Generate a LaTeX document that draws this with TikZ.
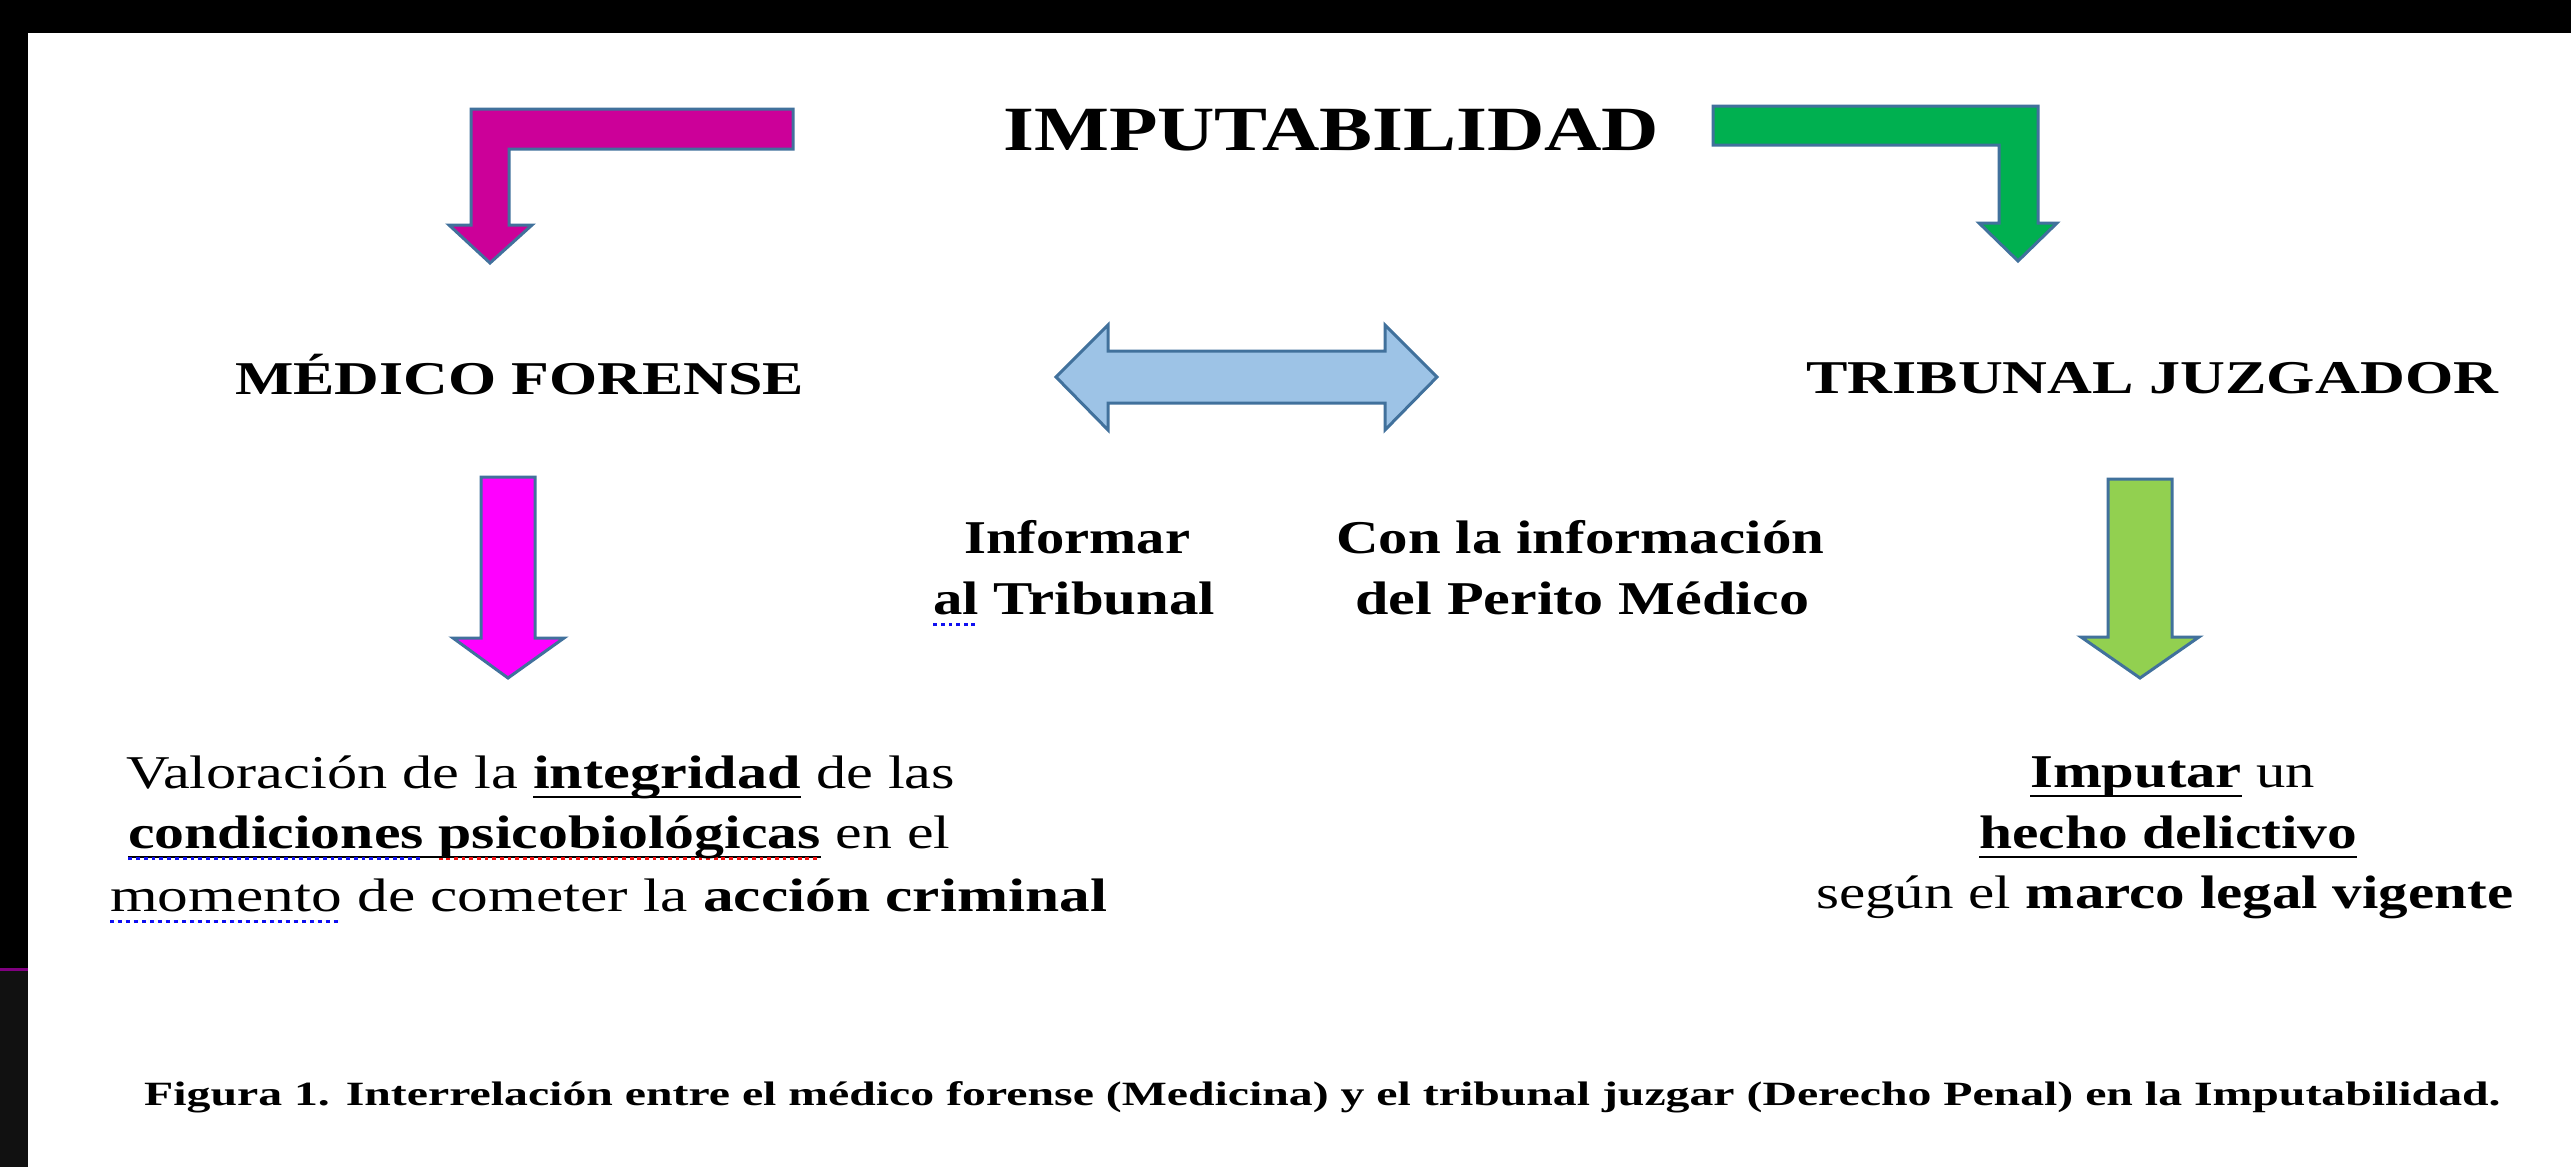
\documentclass[tikz,border=0pt]{standalone}
\usepackage{fontspec}
\setmainfont{Liberation Serif}
\usepackage{graphicx}
\definecolor{arrowline}{HTML}{41719C}
\definecolor{magbent}{HTML}{CC0099}
\definecolor{grnbent}{HTML}{00B050}
\definecolor{dblfill}{HTML}{9DC3E6}
\definecolor{magvert}{HTML}{FF00FF}
\definecolor{grnvert}{HTML}{92D050}
\definecolor{spellblue}{HTML}{1010F0}
\definecolor{spellred}{HTML}{F01010}
\definecolor{stripgray}{HTML}{111111}
\definecolor{stripline}{HTML}{800080}
\tikzset{
  blk/.style={draw=arrowline, line width=3pt, line join=miter},
  txt/.style={inner sep=0pt, anchor=base west, text=black},
}
\newcommand\fitw[2]{\resizebox{#1pt}{\height}{#2}}
\newcommand\fsA{\fontsize{63}{70}\selectfont}
\newcommand\fsB{\fontsize{47}{56}\selectfont}
\newcommand\fsC{\fontsize{34}{40}\selectfont}
\newsavebox\mywordbox
\newcommand\ulb[1]{\sbox\mywordbox{#1}\rlap{\rule[-10pt]{\wd\mywordbox}{2.5pt}}\usebox\mywordbox}
\newcommand\sqc[2]{\sbox\mywordbox{#2}\rlap{\hbox to \wd\mywordbox{\color{#1}\xleaders\hbox{\rule[-12pt]{3pt}{3.5pt}\kern3pt}\hfill}}\usebox\mywordbox}
\newcommand\ulsq[2]{\sbox\mywordbox{#2}\rlap{\rule[-10pt]{\wd\mywordbox}{2.5pt}}\rlap{\hbox to \wd\mywordbox{\color{#1}\xleaders\hbox{\rule[-12pt]{3pt}{3.5pt}\kern3pt}\hfill}}\usebox\mywordbox}
\begin{document}
\begin{tikzpicture}[x=1pt,y=-1pt]
\useasboundingbox (0,0) rectangle (2571,1167);
\fill[white] (0,0) rectangle (2571,1167);
\fill[black] (0,0) rectangle (2571,33);
\fill[black] (0,33) rectangle (28,969);
\fill[stripgray] (0,969) rectangle (28,1167);
\fill[stripline] (0,968) rectangle (28,970.5);

% bent arrows
\draw[blk, fill=magbent] (793,109) -- (471,109) -- (471,225) -- (449,225) -- (490,263) -- (532,225) -- (509,225) -- (509,149) -- (793,149) -- cycle;
\draw[blk, fill=grnbent] (1713,106) -- (2038,106) -- (2038,223) -- (2057,223) -- (2018,261) -- (1979,223) -- (1999,223) -- (1999,145) -- (1713,145) -- cycle;
% double arrow
\draw[blk, fill=dblfill] (1056,377) -- (1108,325) -- (1108,351) -- (1385,351) -- (1385,325) -- (1437,377) -- (1385,430) -- (1385,403) -- (1108,403) -- (1108,430) -- cycle;
% vertical arrows
\draw[blk, fill=magvert] (481,477) -- (535,477) -- (535,638) -- (564,638) -- (508,678) -- (453,638) -- (481,638) -- cycle;
\draw[blk, fill=grnvert] (2108,479) -- (2172,479) -- (2172,637) -- (2199,637) -- (2140,678) -- (2081,637) -- (2108,637) -- cycle;

% texts
\node[txt] (imp) at (1003,150) {\fsA\bfseries\fitw{656}{IMPUTABILIDAD}};
\node[txt] (med) at (235,394) {\fsB\bfseries\fitw{569}{MÉDICO FORENSE}};
\node[txt] (trib) at (1806,393) {\fsB\bfseries\fitw{692}{TRIBUNAL JUZGADOR}};

\node[txt] (inf1) at (964,553) {\fsB\bfseries\fitw{226}{Informar}};
\node[txt] (inf2) at (933,614) {\fsB\bfseries\fitw{282}{\sqc{spellblue}{al} Tribunal}};
\node[txt] (con1) at (1336,553) {\fsB\bfseries\fitw{488}{Con la información}};
\node[txt] (con2) at (1355,614) {\fsB\bfseries\fitw{454}{del Perito Médico}};

\node[txt] (val1) at (126,788) {\fsB\fitw{829}{Valoración de la {\bfseries\ulb{integridad}} de las}};
\node[txt] (val2) at (128,848) {\fsB\fitw{822}{{\bfseries\ulsq{spellblue}{condiciones}\ulb{\ }\ulsq{spellred}{psicobiológicas}} en el}};
\node[txt] (val3) at (110,911) {\fsB\fitw{997}{\sqc{spellblue}{momento} de cometer la {\bfseries acción criminal}}};

\node[txt] (imp1) at (2030,787) {\fsB\fitw{285}{{\bfseries\ulb{Imputar}} un}};
\node[txt] (imp2) at (1979,848) {\fsB\bfseries\fitw{378}{\ulb{hecho delictivo}}};
\node[txt] (imp3) at (1816,908) {\fsB\fitw{697}{según el {\bfseries marco legal vigente}}};

\node[txt] (cap) at (144,1105) {\fsC\bfseries\fitw{2356}{Figura 1. Interrelación entre el médico forense (Medicina) y el tribunal juzgar (Derecho Penal) en la Imputabilidad.}};
\end{tikzpicture}
\end{document}
